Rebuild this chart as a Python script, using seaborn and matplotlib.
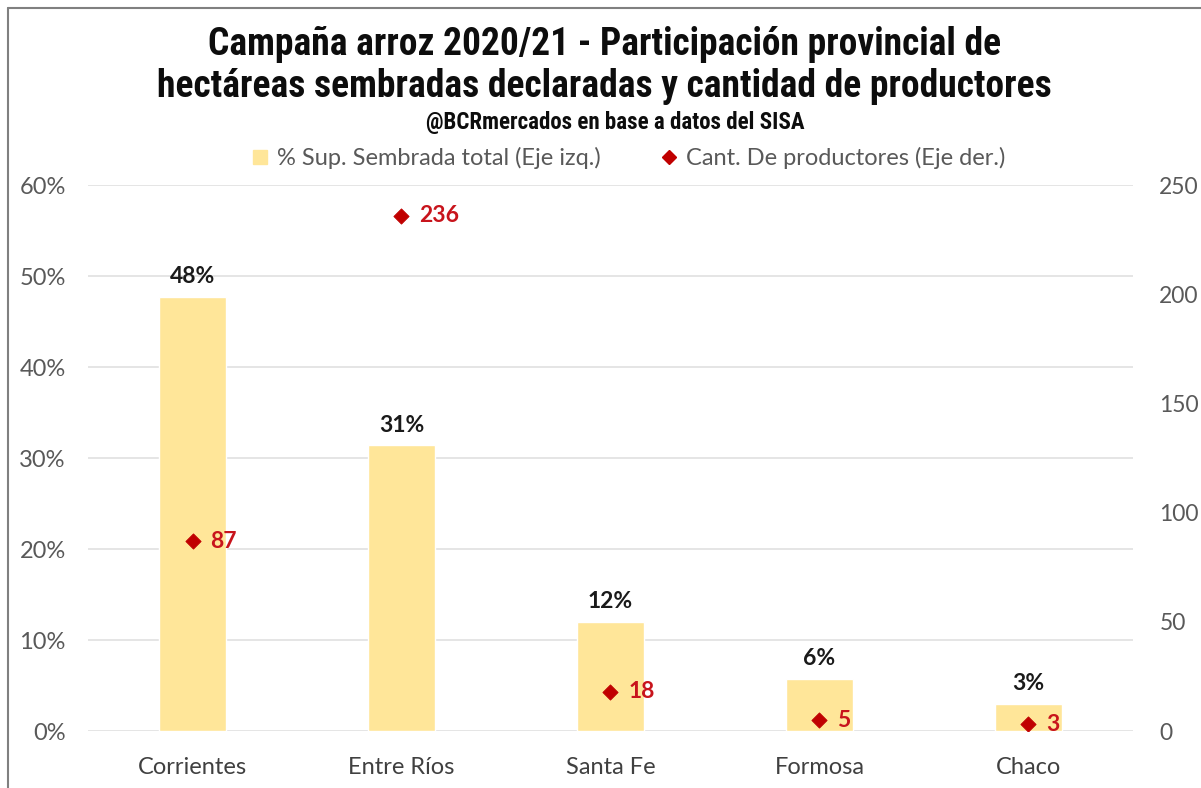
import numpy as np
import pandas as pd
import matplotlib
matplotlib.use("Agg")
import matplotlib.pyplot as plt
from matplotlib.lines import Line2D
import seaborn as sns

# data
provincias = ["Corrientes", "Entre Ríos", "Santa Fe", "Formosa", "Chaco"]
sup_sembrada = [47.7, 31.4, 12.0, 5.7, 3.0]      # % (left axis)
sup_labels = ["48%", "31%", "12%", "6%", "3%"]
productores = [87, 236, 18, 5, 3]                 # count (right axis)
left_ticks = [0, 10, 20, 30, 40, 50, 60]
right_ticks = [0, 50, 100, 150, 200, 250]

df = pd.DataFrame({"prov": provincias, "sup": sup_sembrada, "prod": productores})

sns.set_theme(style="white")
plt.rcParams["font.family"] = ["Lato", "DejaVu Sans"]
cond = ["DejaVu Sans Condensed", "Liberation Sans Narrow", "Roboto Condensed",
        "DejaVu Sans"]

bar_col = "#FFE699"
dot_col = "#C00000"
grey = "#595959"

fig = plt.figure(figsize=(12.01, 7.88), dpi=100)
ax = fig.add_axes([0.0733, 0.0723, 0.870, 0.6929])

sns.barplot(data=df, x="prov", y="sup", color=bar_col, width=0.32,
            saturation=1, ax=ax, zorder=2)
ax.set_ylim(0, 60)
ax.set_yticks(left_ticks)
ax.set_yticklabels([f"{t}%" for t in left_ticks])
ax.yaxis.grid(True, color="#E0E0E0", linewidth=1.2, zorder=0)
ax.set_axisbelow(True)
ax.set_xlabel("")
ax.set_ylabel("")
ax.set_xlim(-0.5, 4.5)
for s in ax.spines.values():
    s.set_visible(False)
ax.tick_params(axis="y", length=0, pad=16, labelsize=17, labelcolor=grey)
ax.tick_params(axis="x", length=0, pad=19, labelsize=17, labelcolor="#404040")

for i, lab in enumerate(sup_labels):
    ax.annotate(lab, xy=(i, sup_sembrada[i]), xytext=(0, 7),
                textcoords="offset points", ha="center", va="bottom",
                fontsize=16.5, fontweight="bold", color="#1A1A1A")

ax2 = ax.twinx()
sns.scatterplot(data=df, x="prov", y="prod", marker="D", s=60, color=dot_col,
                edgecolor=dot_col, ax=ax2, zorder=3, legend=False)
ax2.set_ylim(0, 250)
ax2.set_yticks(right_ticks)
ax2.set_ylabel("")
for s in ax2.spines.values():
    s.set_visible(False)
ax2.tick_params(axis="y", length=0, pad=19, labelsize=16.5, labelcolor=grey)
ax2.grid(False)
for i, v in enumerate(productores):
    ax2.annotate(str(v), xy=(i, v), xytext=(13, 0), textcoords="offset points",
                 ha="left", va="center", fontsize=16.5, fontweight="bold",
                 color="#C8141C")

fig.text(0.503, 0.943, "Campaña arroz 2020/21 - Participación provincial de",
         ha="center", va="center", fontsize=27, fontweight="bold",
         family=cond, fontstretch="condensed", color="#0D0D0D")
fig.text(0.503, 0.890, "hectáreas sembradas declaradas y cantidad de productores",
         ha="center", va="center", fontsize=27, fontweight="bold",
         family=cond, fontstretch="condensed", color="#0D0D0D")
fig.text(0.512, 0.845, "@BCRmercados en base a datos del SISA",
         ha="center", va="center", fontsize=16.5, fontweight="bold",
         family=cond, fontstretch="condensed", color="#0D0D0D")

handles = [
    Line2D([], [], marker="s", linestyle="", color=bar_col, markersize=10),
    Line2D([], [], marker="D", linestyle="", color=dot_col, markersize=7),
]
fig.legend(handles, ["% Sup. Sembrada total (Eje izq.)",
                     "Cant. De productores (Eje der.)"],
           loc="center", bbox_to_anchor=(0.522, 0.799), ncol=2, frameon=False,
           fontsize=17, labelcolor=grey, handletextpad=0.2, columnspacing=2.4,
           handlelength=1.0)

# chart frame (left and top edges visible in the crop)
fig.add_artist(Line2D([8 / 1201, 8 / 1201], [0, 1 - 8 / 788],
                      transform=fig.transFigure, color="#808080", linewidth=1.5))
fig.add_artist(Line2D([8 / 1201, 1], [1 - 8 / 788, 1 - 8 / 788],
                      transform=fig.transFigure, color="#808080", linewidth=1.5))

fig.savefig("out.png", dpi=100)
